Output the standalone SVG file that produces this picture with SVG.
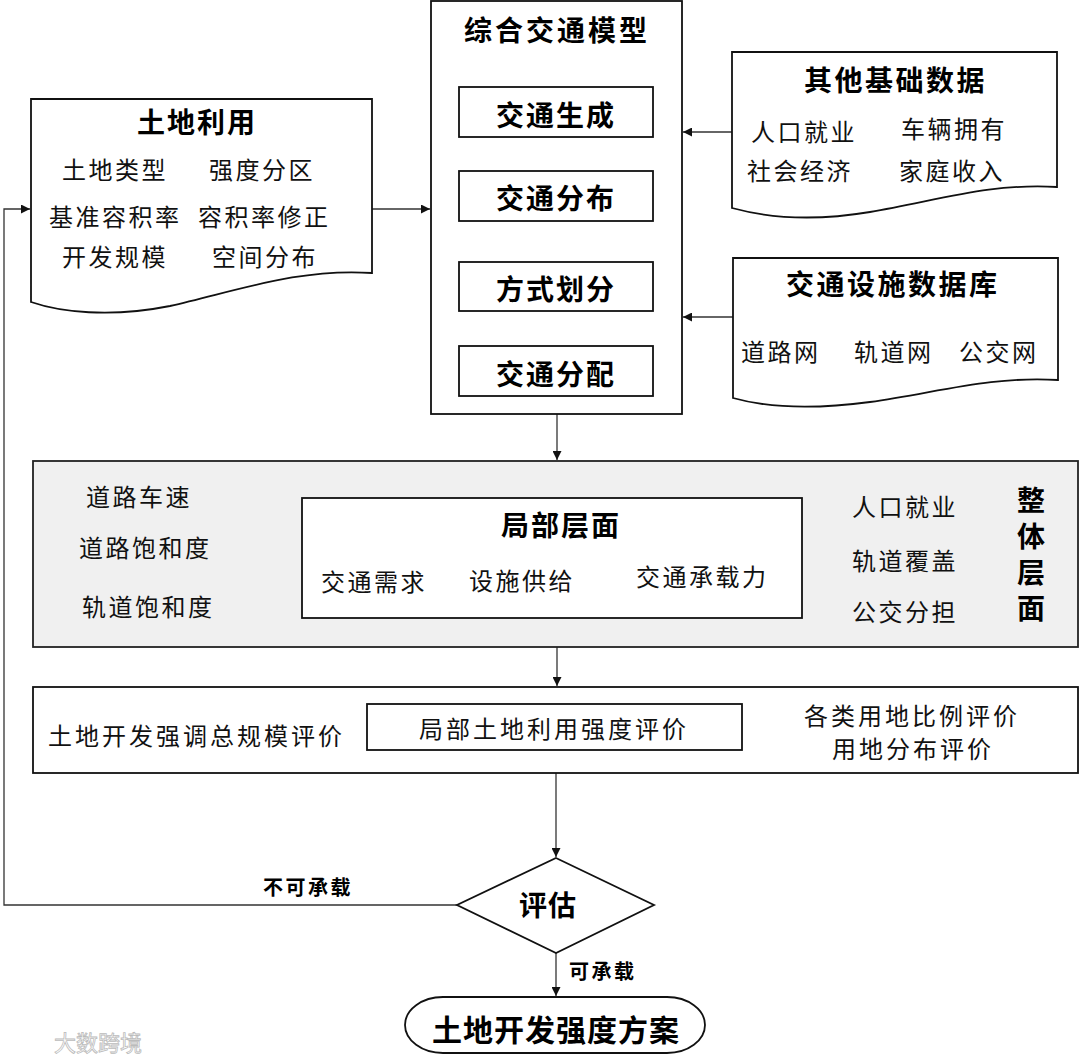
<svg xmlns="http://www.w3.org/2000/svg" width="1080" height="1062" viewBox="0 0 1080 1062">
<defs>
<style>
.t{font-family:"Noto Sans CJK SC","Liberation Sans",sans-serif;font-size:24px;fill:#111;letter-spacing:2.5px}
.b{font-family:"Noto Sans CJK SC","Liberation Sans",sans-serif;font-size:28px;font-weight:700;fill:#000;letter-spacing:2px}
.s{font-family:"Noto Sans CJK SC","Liberation Sans",sans-serif;font-size:20px;font-weight:700;fill:#000;letter-spacing:2.5px}
.box{fill:#fff;stroke:#111;stroke-width:1.8}
.gray{fill:#f0f0f0;stroke:#222;stroke-width:1.8}
.ln{fill:none;stroke:#333;stroke-width:1.3}
</style>
<marker id="ah" viewBox="0 0 10 10" refX="10" refY="5" markerWidth="9" markerHeight="9" markerUnits="userSpaceOnUse" orient="auto">
<path d="M0,0 L10,5 L0,10 Z" fill="#111"/>
</marker>
</defs>

<g id="connectors">
<line class="ln" x1="372" y1="209" x2="430" y2="209" marker-end="url(#ah)"/>
<path class="ln" d="M457,905 H4 V209 H30" marker-end="url(#ah)"/>
<line class="ln" x1="733" y1="132" x2="683" y2="132" marker-end="url(#ah)"/>
<line class="ln" x1="733" y1="317" x2="683" y2="317" marker-end="url(#ah)"/>
<line class="ln" x1="557" y1="137" x2="557" y2="170" marker-end="url(#ah)"/>
<line class="ln" x1="557" y1="221" x2="557" y2="261" marker-end="url(#ah)"/>
<line class="ln" x1="557" y1="311" x2="557" y2="345" marker-end="url(#ah)"/>
<line class="ln" x1="557" y1="414" x2="557" y2="460" marker-end="url(#ah)"/>
<line class="ln" x1="557" y1="647" x2="557" y2="686" marker-end="url(#ah)"/>
<line class="ln" x1="556" y1="773" x2="556" y2="857" marker-end="url(#ah)"/>
<line class="ln" x1="556" y1="953" x2="556" y2="996" marker-end="url(#ah)"/>
<text class="s" x="263" y="895">不可承载</text>
<text class="s" x="569" y="979">可承载</text>
</g>

<g id="land-use">
<path class="box" d="M31,99 H372 V273 C300,268 240,290 170,306 C110,318 60,312 31,302 Z"/>
<text class="b" x="137" y="133">土地利用</text>
<text class="t" x="62" y="179">土地类型</text>
<text class="t" x="209" y="179">强度分区</text>
<text class="t" x="49" y="226">基准容积率</text>
<text class="t" x="198" y="226">容积率修正</text>
<text class="t" x="62" y="266">开发规模</text>
<text class="t" x="212" y="266">空间分布</text>
</g>

<g id="traffic-model">
<rect class="box" x="431" y="1" width="251" height="413"/>
<text class="b" x="464" y="41" style="letter-spacing:3px">综合交通模型</text>
</g>
<g id="trip-generation">
<rect class="box" x="459" y="87" width="194" height="50"/>
<text class="b" x="496" y="126">交通生成</text>
</g>
<g id="trip-distribution">
<rect class="box" x="459" y="171" width="194" height="50"/>
<text class="b" x="496" y="209">交通分布</text>
</g>
<g id="mode-split">
<rect class="box" x="459" y="262" width="194" height="49"/>
<text class="b" x="496" y="300">方式划分</text>
</g>
<g id="assignment">
<rect class="box" x="459" y="346" width="194" height="50"/>
<text class="b" x="496" y="385">交通分配</text>
</g>

<g id="other-data">
<path class="box" d="M732,52 H1057 V187 C990,183 940,200 870,212 C810,222 765,217 732,208 Z"/>
<text class="b" x="804" y="91" style="letter-spacing:2.5px">其他基础数据</text>
<text class="t" x="751" y="141">人口就业</text>
<text class="t" x="901" y="138">车辆拥有</text>
<text class="t" x="747" y="180">社会经济</text>
<text class="t" x="899" y="180">家庭收入</text>
</g>

<g id="facility-db">
<path class="box" d="M733,258 H1058 V380 C990,376 940,392 870,402 C810,410 765,407 733,398 Z"/>
<text class="b" x="786" y="295" style="letter-spacing:2.5px">交通设施数据库</text>
<text class="t" x="741" y="361">道路网</text>
<text class="t" x="854" y="361">轨道网</text>
<text class="t" x="959" y="361">公交网</text>
</g>

<g id="overall-level">
<rect class="gray" x="33" y="461" width="1045" height="186"/>
<text class="t" x="86" y="506">道路车速</text>
<text class="t" x="79" y="557">道路饱和度</text>
<text class="t" x="82" y="616">轨道饱和度</text>
<text class="t" x="852" y="516">人口就业</text>
<text class="t" x="852" y="570">轨道覆盖</text>
<text class="t" x="852" y="621">公交分担</text>
<text class="b" x="1031" y="486" writing-mode="vertical-rl" style="letter-spacing:8px">整体层面</text>
</g>

<g id="local-level">
<rect class="box" x="302" y="498" width="500" height="120"/>
<text class="b" x="501" y="536">局部层面</text>
<text class="t" x="321" y="591">交通需求</text>
<text class="t" x="469" y="590">设施供给</text>
<text class="t" x="636" y="586">交通承载力</text>
</g>

<g id="evaluation">
<rect class="box" x="33" y="687" width="1045" height="86"/>
<text class="t" x="48" y="745" style="letter-spacing:3px">土地开发强调总规模评价</text>
<text class="t" x="804" y="725" style="letter-spacing:3px">各类用地比例评价</text>
<text class="t" x="832" y="758" style="letter-spacing:3px">用地分布评价</text>
</g>
<g id="local-evaluation">
<rect class="box" x="367" y="704" width="375" height="46"/>
<text class="t" x="419" y="738" style="letter-spacing:3px">局部土地利用强度评价</text>
</g>

<g id="assess">
<polygon class="box" points="556,858 654,905 556,953 457,905"/>
<text class="b" x="519" y="916" style="letter-spacing:1px">评估</text>
</g>

<g id="plan">
<rect class="box" x="405" y="997" width="300" height="56" rx="38" ry="28"/>
<text class="b" x="432" y="1041" style="font-size:30px;letter-spacing:1px">土地开发强度方案</text>
</g>

<text x="54" y="1051" style="font-family:'Noto Sans CJK SC',sans-serif;font-size:22px;fill:#fff;stroke:#bbb;stroke-width:0.8">大数跨境</text>
</svg>
